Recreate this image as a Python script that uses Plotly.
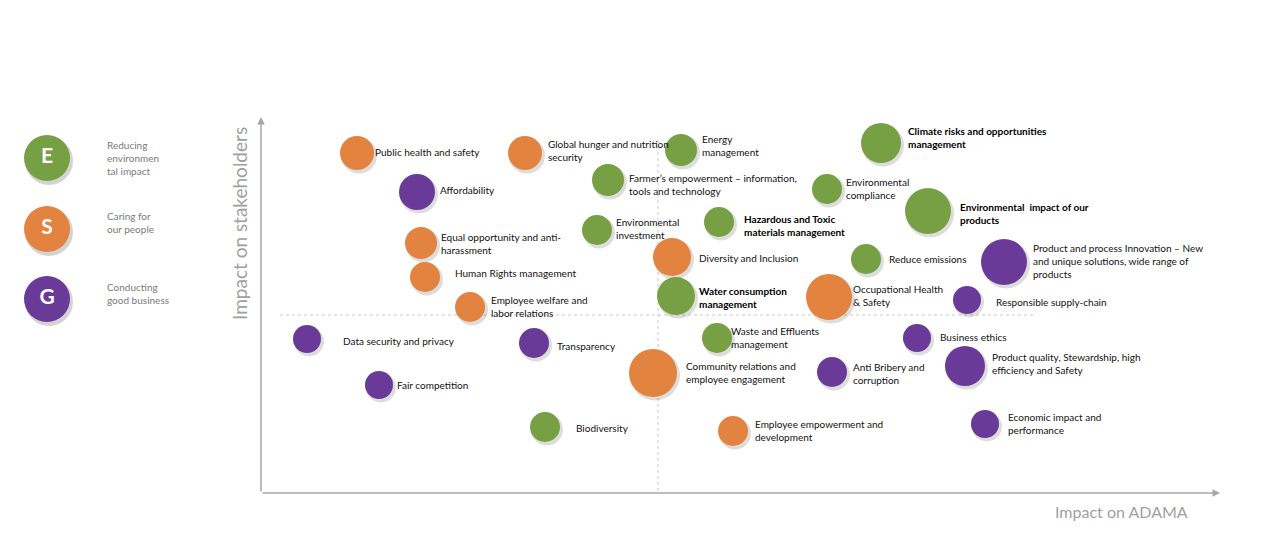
import plotly.graph_objects as go

# ---- data (x = impact on ADAMA, y = impact on stakeholders, in chart units) ----
topics = [
    "Public health and safety", "Global hunger and nutrition<br>security", "Energy<br>management",
    "Climate risks and opportunities<br>management", "Affordability",
    "Farmer’s empowerment – information,<br>tools and technology", "Environmental<br>compliance",
    "Environmental  impact of our<br>products", "Hazardous and Toxic<br>materials management",
    "Environmental<br>investment", "Equal opportunity and anti-<br>harassment", "Diversity and Inclusion",
    "Reduce emissions",
    "Product and process Innovation – New<br>and unique solutions, wide range of<br>products",
    "Human Rights management", "Water consumption<br>management", "Occupational Health<br>& Safety",
    "Responsible supply-chain", "Employee welfare and<br>labor relations", "Data security and privacy",
    "Transparency", "Waste and Effluents<br>management", "Business ethics",
    "Community relations and<br>employee engagement", "Anti Bribery and<br>corruption",
    "Product quality, Stewardship, high<br>efficiency and Safety", "Fair competition", "Biodiversity",
    "Employee empowerment and<br>development", "Economic impact and<br>performance",
]
pillar = ["S", "S", "E", "E", "G", "E", "E", "E", "E", "E", "S", "S", "E", "G", "S", "E", "S", "G",
          "S", "G", "G", "E", "G", "S", "G", "G", "G", "E", "S", "G"]
impact_adama = [357, 525, 681, 881, 417, 608, 827, 928, 719, 597, 421, 672, 866, 1004, 425, 676, 829,
                967, 470, 307, 534, 717, 917, 653, 832, 965, 379, 545, 733, 985]
impact_stake = [153, 153, 150, 143, 192, 180, 189, 211, 222, 230, 243, 257, 259, 262, 277, 296, 297,
                300, 307, 339, 343, 338, 338, 373, 372, 366, 385, 427, 431, 424]
importance = [34, 34, 32, 40, 36, 32, 30, 46, 30, 30, 32, 38, 30, 46, 30, 38, 46, 28, 30, 28, 30, 30,
              28, 48, 30, 40, 28, 30, 30, 28]
bold_topic = [False, False, False, True, False, False, False, True, True, False, False, False, False,
              False, False, True, False, False, False, False, False, False, False, False, False, False,
              False, False, False, False]

pillar_keys = ["E", "S", "G"]
pillar_text = ["Reducing<br>environmen<br>tal impact", "Caring for<br>our people", "Conducting<br>good business"]

x_title = "Impact on ADAMA"
y_title = "Impact on stakeholders"

# ---- styling / layout (not data) ----
colors = {"E": "#77a044", "S": "#e2833f", "G": "#6a3a98"}
label_x = [375, 548, 702, 908, 440, 629, 846, 960, 744, 616, 441, 699, 889, 1033, 455, 699, 853, 996,
           491, 343, 557, 731, 940, 686, 853, 992, 397, 576, 755, 1008]
label_y = [152, 150, 145, 137, 190, 184, 188, 213, 225, 228, 243, 258, 259, 261, 273, 297, 295, 302,
           306, 341, 346, 337, 337, 372, 373, 363, 385, 428, 430, 423]
FONT = "Lato"
OFF = 8   # page body margin compensation
PAD = 2   # annotation inner padding compensation

fig = go.Figure()

# shadows
fig.add_trace(go.Scatter(
    x=[v + 2 for v in impact_adama], y=[v + 2.5 for v in impact_stake], mode="markers",
    marker=dict(size=[s + 2 for s in importance], color="rgba(80,80,80,0.28)", line=dict(width=0)),
    hoverinfo="skip", showlegend=False))

for key in pillar_keys:
    idx = [i for i, p in enumerate(pillar) if p == key]
    fig.add_trace(go.Scatter(
        x=[impact_adama[i] for i in idx], y=[impact_stake[i] for i in idx], mode="markers",
        marker=dict(size=[importance[i] for i in idx], color=colors[key], line=dict(width=0), opacity=1),
        text=[topics[i].replace("<br>", " ") for i in idx], hoverinfo="text", showlegend=False))

annotations = []
for i, t in enumerate(topics):
    txt = f"<b>{t}</b>" if bold_topic[i] else t
    annotations.append(dict(x=label_x[i] - PAD, y=label_y[i], text=txt, showarrow=False, xanchor="left",
                            yanchor="middle", align="left",
                            font=dict(family=FONT, size=10, color="#000" if bold_topic[i] else "#111")))

# legend (pillar key) circles
leg_y = [158, 229, 299]
fig.add_trace(go.Scatter(x=[49, 49, 49], y=[v + 3 for v in leg_y], mode="markers",
                         marker=dict(size=48, color="rgba(80,80,80,0.25)"), hoverinfo="skip",
                         showlegend=False))
fig.add_trace(go.Scatter(x=[47, 47, 47], y=leg_y, mode="markers+text",
                         marker=dict(size=46, color=[colors[k] for k in pillar_keys]),
                         text=[f"<b>{k}</b>" for k in pillar_keys], textposition="middle center",
                         textfont=dict(family=FONT, size=21, color="white"), hoverinfo="skip",
                         showlegend=False))
for k, yy in enumerate([158, 222, 293]):
    annotations.append(dict(x=107 - PAD, y=yy, text=pillar_text[k], showarrow=False, xanchor="left",
                            yanchor="middle", align="left",
                            font=dict(family=FONT, size=10, color="#7a7a7a")))

# axes arrows
annotations.append(dict(x=1220, y=493, ax=261, ay=493, xref="x", yref="y", axref="x", ayref="y",
                        showarrow=True, arrowhead=2, arrowsize=1, arrowwidth=1.5, arrowcolor="#a6a6a6",
                        text=""))
annotations.append(dict(x=261, y=117, ax=261, ay=493, xref="x", yref="y", axref="x", ayref="y",
                        showarrow=True, arrowhead=2, arrowsize=1, arrowwidth=1.5, arrowcolor="#a6a6a6",
                        text=""))
annotations.append(dict(x=1190, y=511, text=x_title, showarrow=False, xanchor="right", yanchor="middle",
                        font=dict(family=FONT, size=16, color="#a0a0a0")))
annotations.append(dict(x=239, y=224, text=y_title, showarrow=False, textangle=-90, xanchor="center",
                        yanchor="middle", font=dict(family=FONT, size=19, color="#a0a0a0")))

shapes = [
    dict(type="line", x0=280, x1=1035, y0=315, y1=315, xref="x", yref="y",
         line=dict(color="#c8c8c8", width=1, dash="dot"), layer="below"),
    dict(type="line", x0=658, x1=658, y0=140, y1=493, xref="x", yref="y",
         line=dict(color="#c8c8c8", width=1, dash="dot"), layer="below"),
]

fig.update_layout(
    width=1280, height=540, margin=dict(l=0, r=0, t=0, b=0),
    paper_bgcolor="white", plot_bgcolor="white",
    xaxis=dict(range=[OFF, 1280 + OFF], visible=False, fixedrange=True),
    yaxis=dict(range=[540 + OFF, OFF], visible=False, fixedrange=True),
    annotations=annotations, shapes=shapes, showlegend=False,
)

fig.write_html("out.html", config={"displayModeBar": False})
